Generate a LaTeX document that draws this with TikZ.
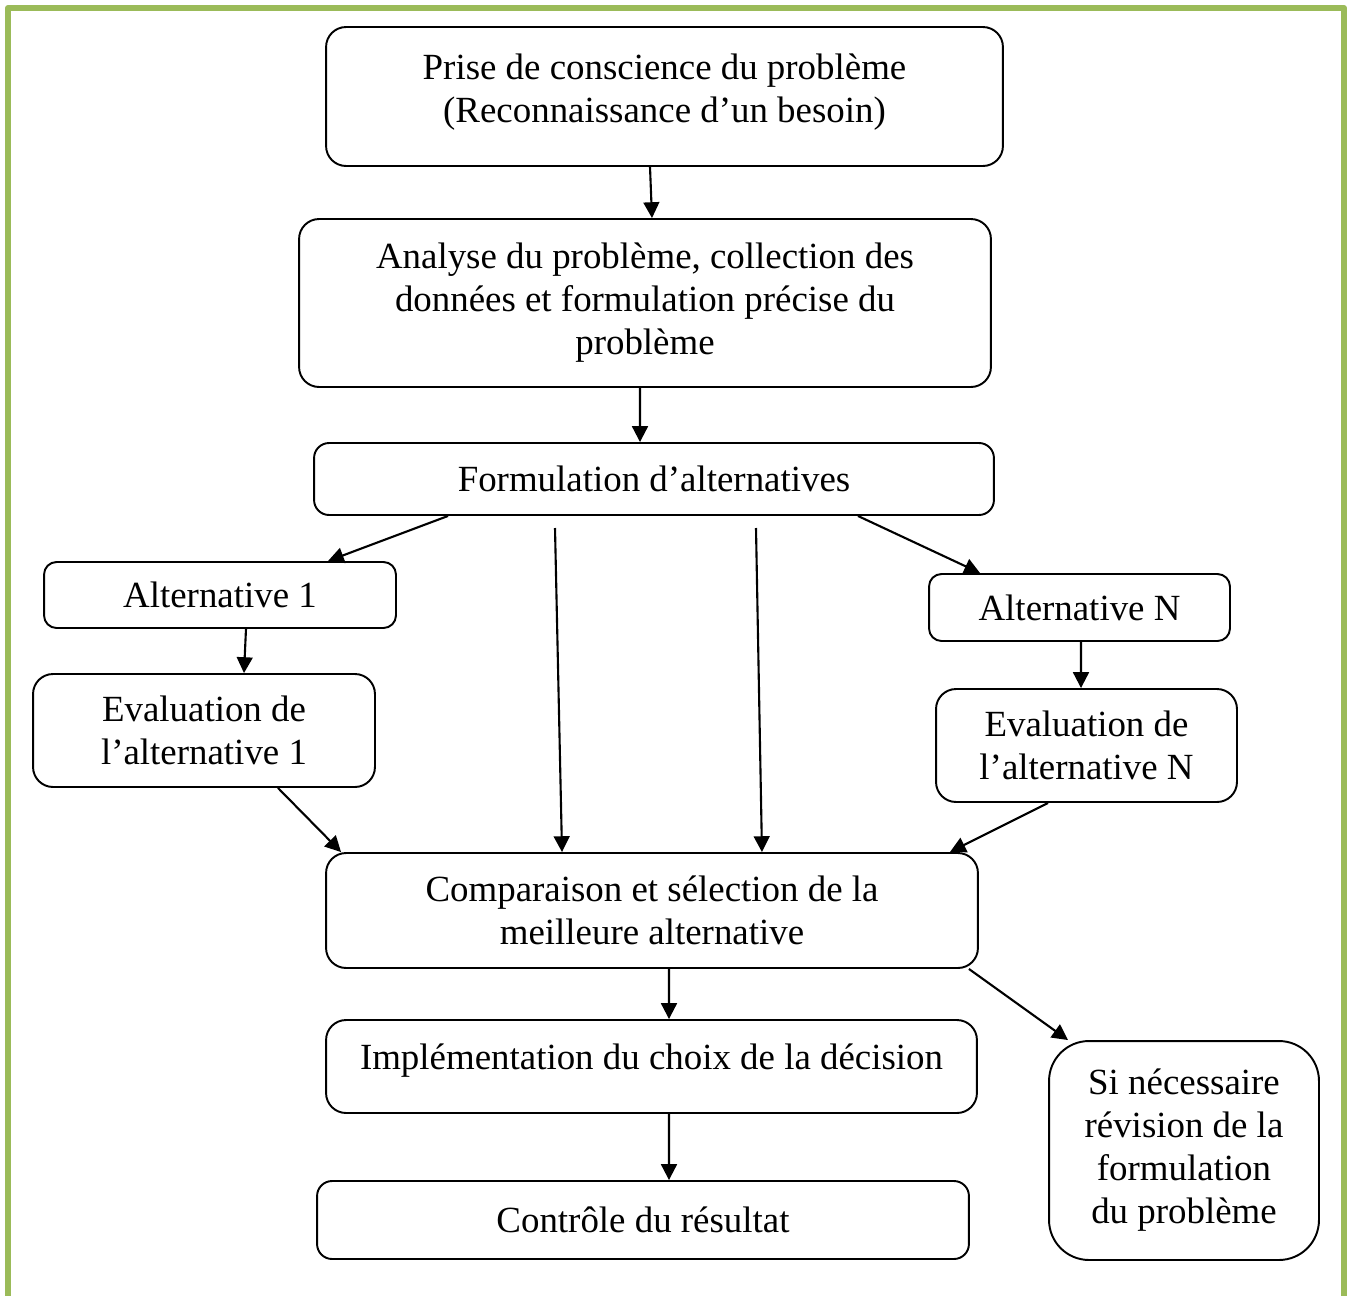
\documentclass[tikz,border=0pt]{standalone}
\usepackage{fontspec}
\setmainfont{Liberation Serif}
\usetikzlibrary{arrows.meta}
\definecolor{framegreen}{HTML}{9BBB59}
\tikzset{
  stepbox/.style={draw, line width=1.1pt, rounded corners=0.4cm, align=center,
    inner sep=0pt, font=\fontsize{21}{24.5}\selectfont},
  link/.style={line width=1.2pt, -{Triangle[length=9pt,width=9pt]}},
}
\begin{document}
\begin{tikzpicture}[x=0.02cm,y=-0.02cm]
	\useasboundingbox (0,0) rectangle (1349,1295);
	% green frame, open at the bottom
	\draw[framegreen, line width=3.4pt, line join=round] (8,1300) -- (8,8) -- (1344,8) -- (1344,1300);
	% main column
	\node[stepbox, text depth=0.35cm, minimum width=13.54cm, minimum height=2.78cm] (prise) at (664.5,96.5)
		{Prise de conscience du problème\\(Reconnaissance d’un besoin)};
	\node[stepbox, minimum width=13.84cm, minimum height=3.36cm] (analyse) at (645,303)
		{Analyse du problème, collection des\\données et formulation précise du\\problème};
	\node[stepbox, rounded corners=0.3cm, minimum width=13.6cm, minimum height=1.44cm] (formul) at (654,479)
		{Formulation d’alternatives};
	% branches
	\node[stepbox, rounded corners=0.25cm, minimum width=7.04cm, minimum height=1.32cm] (alt1) at (220,595)
		{Alternative 1};
	\node[stepbox, minimum width=6.84cm, minimum height=2.26cm] (eval1) at (204,730.5)
		{Evaluation de\\l’alternative 1};
	\node[stepbox, rounded corners=0.25cm, minimum width=6.02cm, minimum height=1.34cm] (altN) at (1079.5,607.5)
		{Alternative N};
	\node[stepbox, minimum width=6.02cm, minimum height=2.26cm] (evalN) at (1086.5,745.5)
		{Evaluation de\\l’alternative N};
	\coordinate (mid1) at (555,528);
	\coordinate (mid2) at (756,528);
	% lower part
	\node[stepbox, minimum width=13.04cm, minimum height=2.3cm] (comp) at (652,910.5)
		{Comparaison et sélection de la\\meilleure alternative};
	\node[stepbox, text depth=0.4cm, minimum width=13.02cm, minimum height=1.86cm] (impl) at (651.5,1066.5)
		{Implémentation du choix de la décision};
	\node[stepbox, rounded corners=0.3cm, minimum width=13.04cm, minimum height=1.56cm] (ctrl) at (643,1220)
		{Contrôle du résultat};
	\node[stepbox, rounded corners=0.8cm, minimum width=5.4cm, minimum height=4.38cm] (revis) at (1184,1150.5)
		{Si nécessaire\\révision de la\\formulation\\du problème};
	% connectors
	\draw[link] ([xshift=-0.29cm]prise.south) -- ([xshift=0.14cm]analyse.north);
	\draw[link] ([xshift=-0.1cm]analyse.south) -- ([xshift=-0.28cm]formul.north);
	\draw[link] ([xshift=-4.12cm]formul.south) -- ([xshift=2.16cm]alt1.north);
	\draw[link] ([xshift=4.08cm]formul.south) -- ([xshift=-1.99cm]altN.north);
	\draw[link] (mid1) -- ([xshift=-1.8cm]comp.north);
	\draw[link] (mid2) -- ([xshift=2.2cm]comp.north);
	\draw[link] ([xshift=0.52cm]alt1.south) -- ([xshift=0.8cm]eval1.north);
	\draw[link] ([xshift=0.03cm]altN.south) -- ([xshift=-0.11cm]evalN.north);
	\draw[link] ([xshift=1.48cm]eval1.south) -- ([xshift=-6.22cm]comp.north);
	\draw[link] ([xshift=-0.77cm]evalN.south) -- ([xshift=5.96cm]comp.north);
	\draw[link] ([xshift=6.34cm]comp.south) -- ([xshift=-2.32cm]revis.north);
	\draw[link] ([xshift=0.34cm]comp.south) -- ([xshift=0.35cm]impl.north);
	\draw[link] ([xshift=0.35cm]impl.south) -- ([xshift=0.52cm]ctrl.north);
\end{tikzpicture}
\end{document}
